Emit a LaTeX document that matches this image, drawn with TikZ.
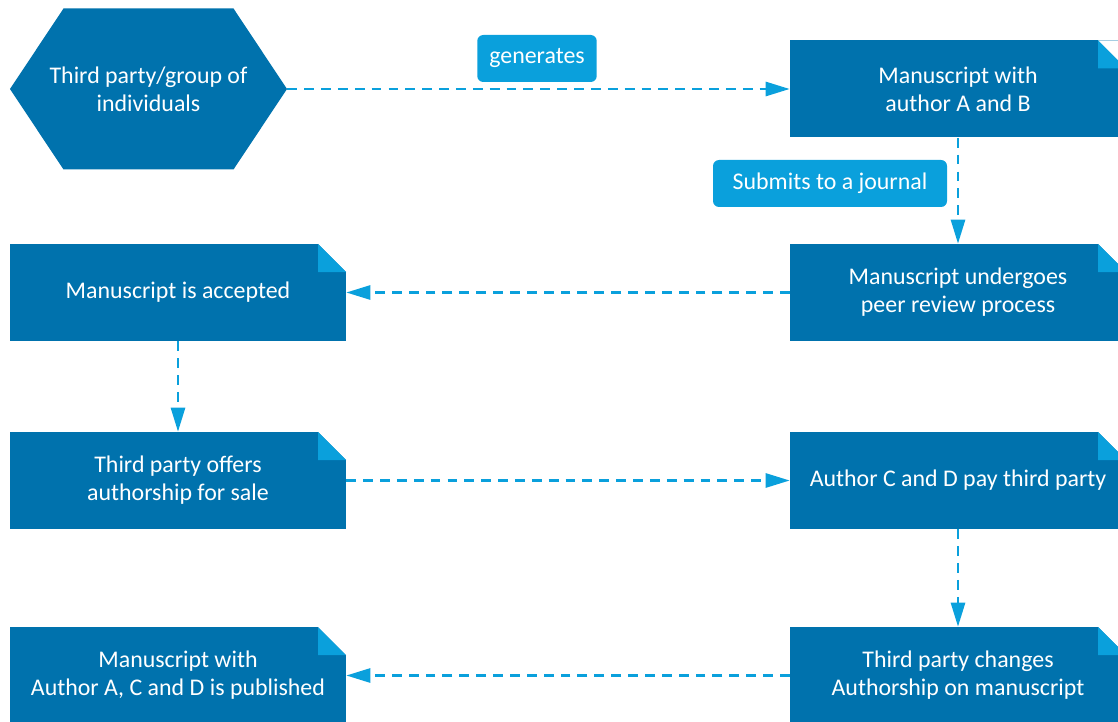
\documentclass[tikz,border=0pt]{standalone}
\usepackage{fontspec}
\setmainfont{Carlito}
\definecolor{BoxColor}{RGB}{0,114,173}
\definecolor{FoldColor}{RGB}{10,160,220}
\definecolor{LinkColor}{RGB}{10,160,220}
\usepackage{tikz}
\usetikzlibrary{arrows.meta, calc}
\tikzstyle{flow} = [line width=1.9pt, LinkColor, dash pattern=on 7pt off 5pt, -{Triangle[length=0.6cm,width=0.35cm]}]
\tikzstyle{doc} = [rectangle, fill=BoxColor, text=white, align=center, minimum width=8.4cm, minimum height=2.425cm, font=\fontsize{17}{20}\selectfont,
  path picture={
    \fill[white] ($(path picture bounding box.north east)+(-0.7,0)$) -- (path picture bounding box.north east) -- ++(0,-0.7) -- cycle;
    \fill[FoldColor] ($(path picture bounding box.north east)+(-0.7,0)$) -- ++(0,-0.7) -- ++(0.7,0) -- cycle;}]
\tikzstyle{party} = [rectangle, fill=white, text=white, align=center, minimum width=6.925cm, minimum height=4.025cm, font=\fontsize{17}{20}\selectfont,
  path picture={
    \fill[BoxColor] (path picture bounding box.west) -- ($(path picture bounding box.north west)+(1.3375,0)$)
      -- ($(path picture bounding box.north east)+(-1.3375,0)$) -- (path picture bounding box.east)
      -- ($(path picture bounding box.south east)+(-1.3375,0)$) -- ($(path picture bounding box.south west)+(1.3375,0)$) -- cycle;}]
\tikzstyle{tag} = [rectangle, rounded corners=0.15cm, fill=LinkColor, text=white, minimum height=1.175cm, inner xsep=0.3cm, font=\fontsize{17}{20}\selectfont]

\begin{document}
\begin{tikzpicture}
    \useasboundingbox (0,0) rectangle (27.95,-18.05);

    % Origin of the manuscript
    \node[party] (group) at (3.7125,-2.225) {Third party/group of\\individuals};
    \node[doc] (draft) at (23.95,-2.225) {Manuscript with\\author A and B};
    \node[tag] (generates) at (13.425,-1.4625) {generates};
    \draw[flow] (group.east) -- (draft.west);

    % Journal
    \node[doc] (review) at (23.95,-7.3125) {Manuscript undergoes\\peer review process};
    \node[tag, minimum width=5.85cm] (submits) at (20.75,-4.5875) {Submits to a journal};
    \draw[flow] (draft.south) -- (review.north);
    \node[doc] (accepted) at (4.45,-7.3125) {Manuscript is accepted};
    \draw[flow] (review.west) -- (accepted.east);

    % Sale of authorship
    \node[doc] (offer) at (4.45,-12.0125) {Third party offers\\authorship for sale};
    \node[doc] (payment) at (23.95,-12.0125) {Author C and D pay third party};
    \draw[flow] (accepted.south) -- (offer.north);
    \draw[flow] (offer.east) -- (payment.west);

    % Publication
    \node[doc] (change) at (23.95,-16.8875) {Third party changes\\Authorship on manuscript};
    \node[doc] (published) at (4.45,-16.8875) {Manuscript with\\Author A, C and D is published};
    \draw[flow] (payment.south) -- (change.north);
    \draw[flow] (change.west) -- (published.east);
\end{tikzpicture}
\end{document}
